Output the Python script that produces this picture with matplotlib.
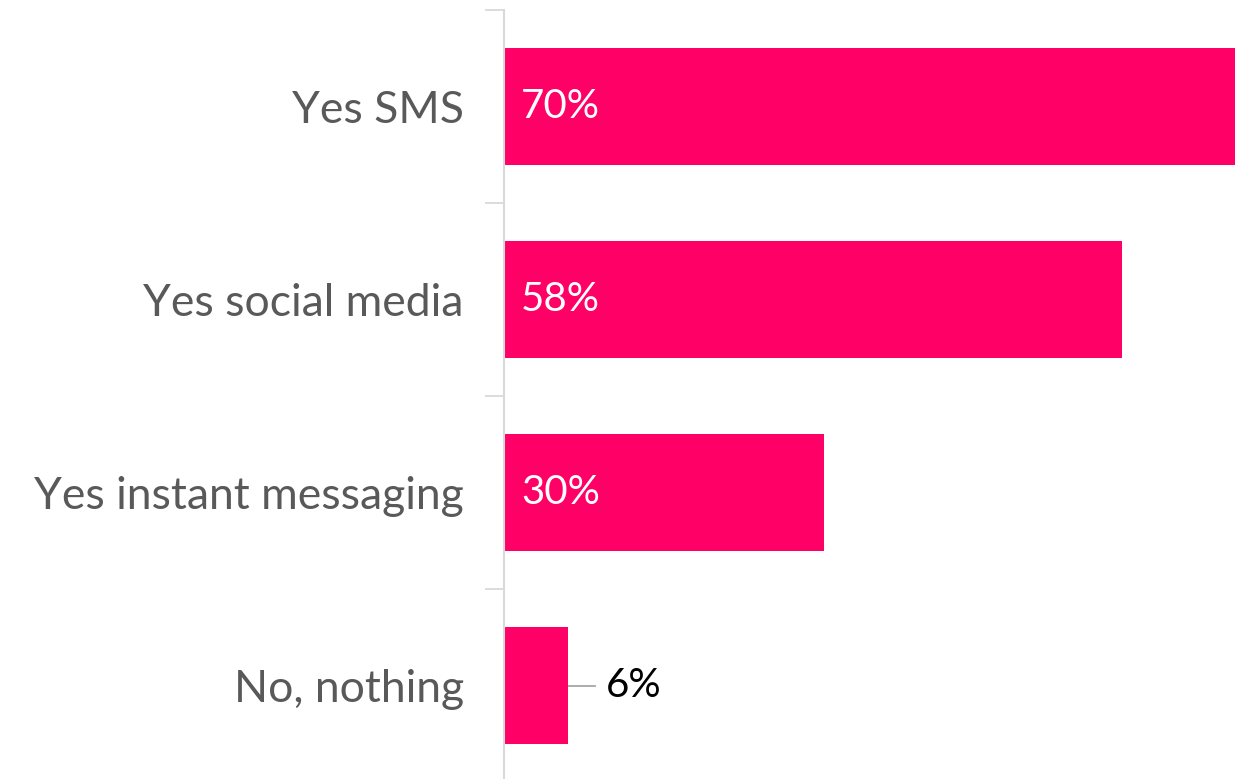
import matplotlib.pyplot as plt
from matplotlib.ticker import FixedLocator, NullLocator

categories = ["Yes SMS", "Yes social media", "Yes instant messaging", "No, nothing"]
values = [70, 58, 30, 6]
labels = ["70%", "58%", "30%", "6%"]

pink = "#FF0066"
grey = "#595959"

plt.rcParams['font.family'] = ['Lato', 'DejaVu Sans']

fig = plt.figure(figsize=(12.35, 7.79), dpi=100)
ax = fig.add_axes([504 / 1235, -3 / 779, 1 - 504 / 1235, 772 / 779])

ypos = list(range(len(categories)))
ax.barh(ypos, values, height=0.61, color=pink, zorder=2)
ax.set_ylim(len(categories) - 0.5, -0.5)
ax.set_xlim(0, 68.6)

ax.set_yticks(ypos)
ax.set_yticklabels(categories, fontsize=32, color=grey)
ax.yaxis.set_minor_locator(FixedLocator([i - 0.5 for i in range(len(categories) + 1)]))
ax.tick_params(axis='y', which='major', length=0, pad=29)
ax.tick_params(axis='y', which='minor', length=14, width=1.3, color="#D9D9D9")
ax.xaxis.set_major_locator(NullLocator())

for s in ['top', 'right', 'bottom']:
    ax.spines[s].set_visible(False)
ax.spines['left'].set_color("#D9D9D9")
ax.spines['left'].set_linewidth(1.5)

for y, v, lab in zip(ypos, values, labels):
    if v > 15:
        ax.text(1.6, y, lab, color="white", fontsize=29, va='center', ha='left')
    else:
        ax.plot([v, v + 2.5], [y, y], color="#A6A6A6", lw=1.3, zorder=1)
        ax.text(v + 3.6, y, lab, color="black", fontsize=29, va='center', ha='left')

fig.savefig("out.png", dpi=100)
